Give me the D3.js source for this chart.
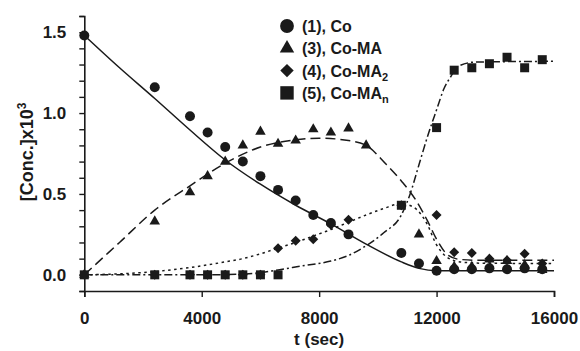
<!DOCTYPE html>
<html>
<head>
<meta charset="utf-8">
<script src="https://cdn.jsdelivr.net/npm/d3@7"></script>
<style>
  html, body { margin: 0; padding: 0; background: #fff; }
  svg { display: block; }
  text { font-family: "Liberation Sans", Arial, sans-serif; font-weight: bold; fill: #1a1a1a; }
</style>
</head>
<body>
<div id="chart"></div>
<script>
// measured points (time in sec, conc x10^3)
const coTime = [0, 2400, 3600, 4200, 4800, 5400, 6000, 6600, 7200, 7800, 8400, 9000, 10800, 11400, 12000, 12600, 13200, 13800, 14400, 15000, 15600];
const coVal = [1.48, 1.16, 0.98, 0.88, 0.79, 0.70, 0.61, 0.525, 0.46, 0.37, 0.32, 0.25, 0.135, 0.07, 0.025, 0.035, 0.035, 0.04, 0.035, 0.04, 0.035];

const maTime = [0, 2400, 3600, 4200, 4800, 5400, 6000, 6600, 7200, 7800, 8400, 9000, 9600, 11400, 12000, 12600, 13200, 13800, 14400, 15000, 15600];
const maVal = [0, 0.33, 0.51, 0.61, 0.70, 0.80, 0.885, 0.81, 0.83, 0.90, 0.88, 0.905, 0.80, 0.25, 0.085, 0.05, 0.05, 0.095, 0.085, 0.06, 0.03];

const ma2Time = [0, 2400, 3600, 4200, 4800, 5400, 6000, 6600, 7200, 7800, 8400, 9000, 10800, 12000, 12600, 13200, 13800, 14400, 15000, 15600];
const ma2Val = [0, 0, 0, 0, 0, 0, 0, 0.165, 0.21, 0.22, 0.31, 0.34, 0.43, 0.37, 0.14, 0.135, 0.10, 0.09, 0.13, 0.07];

const manTime = [0, 2400, 3600, 4200, 4800, 5400, 6000, 6600, 10800, 12000, 12600, 13200, 13800, 14400, 15000, 15600];
const manVal = [0, 0, 0, 0, 0, 0, 0, 0, 0.43, 0.91, 1.265, 1.28, 1.305, 1.345, 1.28, 1.33];

// fitted curves
const coFitTime = [0, 1200, 2400, 3600, 4800, 6000, 7200, 8400, 9600, 10800, 11400, 12000, 16000];
const coFitVal = [1.48, 1.28, 1.09, 0.895, 0.71, 0.56, 0.43, 0.315, 0.19, 0.08, 0.04, 0.025, 0.025];

const maFitTime = [0, 1200, 2400, 3600, 4800, 6000, 7200, 8000, 9000, 9600, 10300, 10800, 11300, 11700, 12000, 12400, 12800, 13500, 16000];
const maFitVal = [0, 0.2, 0.40, 0.55, 0.69, 0.79, 0.835, 0.845, 0.83, 0.80, 0.68, 0.58, 0.46, 0.33, 0.22, 0.12, 0.095, 0.09, 0.09];

const ma2FitTime = [0, 2400, 3600, 4800, 5400, 6000, 6600, 7200, 7800, 8400, 9000, 9600, 10200, 10800, 11200, 11660, 12000, 12350, 12800, 13500, 16000];
const ma2FitVal = [0, 0.02, 0.045, 0.08, 0.10, 0.13, 0.165, 0.20, 0.24, 0.28, 0.325, 0.37, 0.41, 0.44, 0.42, 0.32, 0.185, 0.11, 0.08, 0.072, 0.07];

const manFitTime = [0, 4000, 5500, 6600, 7400, 8400, 9000, 9600, 10200, 10800, 11100, 11400, 11700, 12000, 12250, 12500, 12700, 13300, 16000];
const manFitVal = [0, 0, 0.005, 0.03, 0.055, 0.085, 0.12, 0.18, 0.26, 0.37, 0.5, 0.68, 0.86, 1.02, 1.15, 1.23, 1.285, 1.315, 1.32];

const xTicks = [0, 4000, 8000, 12000, 16000];
const yMajor = [0, 0.5, 1.0, 1.5];
const legendLabels = [["(1), Co", ""], ["(3), Co-MA", ""], ["(4), Co-MA", "2"], ["(5), Co-MA", "n"]];

const width = 580, height = 351;
const svg = d3.select("#chart").append("svg").attr("width", width).attr("height", height);

const x = d3.scaleLinear().domain([0, 16000]).range([84.3, 554]);
const y = d3.scaleLinear().domain([-0.1, 1.6]).range([291, 16]);

// axes
const yAxis = d3.axisLeft(y)
    .tickValues(d3.range(-1, 17).map(i => i / 10))
    .tickSize(5).tickPadding(13)
    .tickFormat(d => yMajor.some(v => Math.abs(v - d) < 1e-9) ? d3.format(".1f")(d) : "");
const gy = svg.append("g").attr("transform", `translate(${x(0)},0)`).call(yAxis);

const xAxis = d3.axisBottom(x).tickValues(xTicks).tickSize(6).tickPadding(15).tickFormat(d3.format("d"));
const gx = svg.append("g").attr("transform", `translate(0,${y(-0.1)})`).call(xAxis);

[gx, gy].forEach(g => {
    g.select(".domain").attr("stroke", "#1a1a1a").attr("stroke-width", 1.6);
    g.selectAll(".tick line").attr("stroke", "#1a1a1a").attr("stroke-width", 1.4);
    g.selectAll(".tick text").attr("fill", "#1a1a1a").attr("font-family", null).attr("font-weight", "bold");
});
gy.selectAll(".tick text").attr("font-size", "17px");
gx.selectAll(".tick text").attr("font-size", "17px");

// axis titles
svg.append("text")
    .attr("x", x(8000)).attr("y", 345)
    .attr("text-anchor", "middle").attr("font-size", "17px")
    .text("t (sec)");

const yl = svg.append("text")
    .attr("transform", `translate(33,${y(0.76)}) rotate(-90)`)
    .attr("text-anchor", "middle").attr("font-size", "18px");
yl.append("tspan").text("[Conc.]x10");
yl.append("tspan").attr("dy", -7).attr("font-size", "12px").text("3");

// fitted curves
const fits = [
    { t: coFitTime, v: coFitVal, dash: null },
    { t: maFitTime, v: maFitVal, dash: "10,5" },
    { t: ma2FitTime, v: ma2FitVal, dash: "2.5,3.5" },
    { t: manFitTime, v: manFitVal, dash: "8,3,2,3" }
];
const line = d3.line().x(d => x(d[0])).y(d => y(d[1])).curve(d3.curveMonotoneX);
fits.forEach(f => {
    svg.append("path")
        .datum(f.t.map((t, i) => [t, f.v[i]]))
        .attr("fill", "none")
        .attr("stroke", "#1a1a1a")
        .attr("stroke-width", 1.5)
        .attr("stroke-dasharray", f.dash)
        .attr("d", line);
});

// markers
const diamond = { draw(ctx, size) { const r = Math.sqrt(size / 2); ctx.moveTo(0, -r); ctx.lineTo(r, 0); ctx.lineTo(0, r); ctx.lineTo(-r, 0); ctx.closePath(); } };
const series = [
    { t: ma2Time, v: ma2Val, type: diamond, size: 50, legSize: 90 },
    { t: maTime, v: maVal, type: d3.symbolTriangle, size: 48, legSize: 90 },
    { t: coTime, v: coVal, type: d3.symbolCircle, size: 78, legSize: 150 },
    { t: manTime, v: manVal, type: d3.symbolSquare, size: 81, legSize: 180 }
];
series.forEach(s => {
    svg.append("g").selectAll("path")
        .data(s.t.map((t, i) => [t, s.v[i]]))
        .join("path")
        .attr("transform", d => `translate(${x(d[0])},${y(d[1])})`)
        .attr("d", d3.symbol(s.type, s.size))
        .attr("fill", "#1a1a1a");
});

// legend
const legOrder = [series[2], series[1], series[0], series[3]];
const leg = svg.append("g").attr("transform", "translate(287,26)");
legOrder.forEach((s, i) => {
    const row = leg.append("g").attr("transform", `translate(0,${i * 22.3})`);
    row.append("path").attr("d", d3.symbol(s.type, s.legSize)).attr("fill", "#1a1a1a");
    const tx = row.append("text").attr("x", 15).attr("y", 6).attr("font-size", "16px");
    tx.append("tspan").text(legendLabels[i][0]);
    if (legendLabels[i][1]) tx.append("tspan").attr("dy", 4).attr("font-size", "11px").text(legendLabels[i][1]);
});
</script>
</body>
</html>
